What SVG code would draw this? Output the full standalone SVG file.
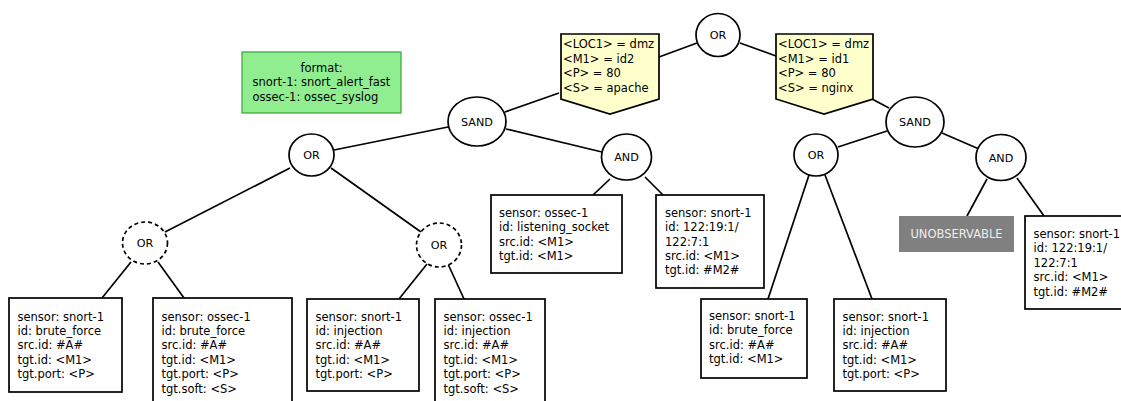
<svg xmlns="http://www.w3.org/2000/svg" width="1121" height="401" viewBox="0 0 1121 401">
<style>
text{font-family:"DejaVu Sans","Liberation Sans",sans-serif;font-size:11.5px;fill:#000}
.n{fill:#fff;stroke:#000;stroke-width:1.7}
.d{fill:#fff;stroke:#000;stroke-width:1.7;stroke-dasharray:4 3}
.b{fill:#fff;stroke:#000;stroke-width:1.7}
.p{fill:#ffffcc;stroke:#000;stroke-width:1.7}
.lbl{text-anchor:middle;font-size:11.2px}
#edges line{stroke:#000;stroke-width:1.7}
</style>
<rect width="1121" height="401" fill="#fff"/>
<g id="edges">
<line x1="697" y1="43" x2="659" y2="57"/>
<line x1="740" y1="43" x2="776" y2="56"/>
<line x1="559" y1="93" x2="505" y2="112"/>
<line x1="872" y1="99" x2="889" y2="108"/>
<line x1="448" y1="127" x2="334" y2="150"/>
<line x1="506" y1="129" x2="602" y2="152"/>
<line x1="887" y1="131" x2="838" y2="147"/>
<line x1="942" y1="133" x2="979" y2="149"/>
<line x1="290" y1="168" x2="165" y2="232"/>
<line x1="331" y1="168" x2="421" y2="232"/>
<line x1="131" y1="262" x2="102" y2="298"/>
<line x1="158" y1="262" x2="184" y2="298"/>
<line x1="427" y1="264" x2="399" y2="299"/>
<line x1="448" y1="264" x2="464" y2="299"/>
<line x1="610" y1="179" x2="593" y2="195"/>
<line x1="645" y1="177" x2="663" y2="195"/>
<line x1="809" y1="175" x2="768" y2="299"/>
<line x1="825" y1="175" x2="872" y2="299"/>
<line x1="987" y1="179" x2="967" y2="216"/>
<line x1="1017" y1="178" x2="1044" y2="216"/>
</g>
<g id="format">
<rect x="242" y="52" width="159" height="61" fill="#90ee90" stroke="#3faa3f" stroke-width="1.3"/>
<text x="321.5" y="71.7" text-anchor="middle">format:</text>
<text x="252.5" y="86.1">snort-1: snort_alert_fast</text>
<text x="252.5" y="100.5">ossec-1: ossec_syslog</text>
</g>
<g id="or_top"><ellipse class="n" cx="718" cy="35" rx="22" ry="21.5"/><text class="lbl" x="718" y="39">OR</text></g>
<g id="ctx_left">
<polygon class="p" points="561,34 659,34 659,99 610,114 561,99"/>
<text x="563" y="48.3">&lt;LOC1&gt; = dmz</text>
<text x="563" y="62.7">&lt;M1&gt; = id2</text>
<text x="563" y="77.1">&lt;P&gt; = 80</text>
<text x="563" y="91.5">&lt;S&gt; = apache</text>
</g>
<g id="ctx_right">
<polygon class="p" points="776,34 873,34 873,99 824,114 776,99"/>
<text x="778" y="48.3">&lt;LOC1&gt; = dmz</text>
<text x="778" y="62.7">&lt;M1&gt; = id1</text>
<text x="778" y="77.1">&lt;P&gt; = 80</text>
<text x="778" y="91.5">&lt;S&gt; = nginx</text>
</g>
<g id="sand_left"><ellipse class="n" cx="477" cy="121.5" rx="29" ry="24.5"/><text class="lbl" x="477" y="125.5">SAND</text></g>
<g id="or_left"><ellipse class="n" cx="311.5" cy="155" rx="22.5" ry="21"/><text class="lbl" x="311.5" y="159">OR</text></g>
<g id="and_left"><ellipse class="n" cx="626.5" cy="157" rx="25" ry="23"/><text class="lbl" x="626.5" y="161">AND</text></g>
<g id="sand_right"><ellipse class="n" cx="915" cy="122" rx="29" ry="25"/><text class="lbl" x="915" y="126">SAND</text></g>
<g id="or_right"><ellipse class="n" cx="816" cy="155" rx="22" ry="21"/><text class="lbl" x="816" y="159">OR</text></g>
<g id="and_right"><ellipse class="n" cx="1001" cy="157.5" rx="25" ry="23"/><text class="lbl" x="1001" y="161.5">AND</text></g>
<g id="or_dash1"><ellipse class="d" cx="145" cy="243" rx="22.5" ry="21"/><text class="lbl" x="145" y="247">OR</text></g>
<g id="or_dash2"><ellipse class="d" cx="439" cy="245" rx="22.5" ry="22"/><text class="lbl" x="439" y="249">OR</text></g>
<g id="box1">
<rect class="b" x="9" y="298" width="113" height="94"/>
<text x="17.5" y="320.5">sensor: snort-1</text>
<text x="17.5" y="334.9">id: brute_force</text>
<text x="17.5" y="349.3">src.id: #A#</text>
<text x="17.5" y="363.7">tgt.id: &lt;M1&gt;</text>
<text x="17.5" y="378.1">tgt.port: &lt;P&gt;</text>
</g>
<g id="box2">
<rect class="b" x="153" y="298" width="139" height="110"/>
<text x="161.5" y="320.5">sensor: ossec-1</text>
<text x="161.5" y="334.9">id: brute_force</text>
<text x="161.5" y="349.3">src.id: #A#</text>
<text x="161.5" y="363.7">tgt.id: &lt;M1&gt;</text>
<text x="161.5" y="378.1">tgt.port: &lt;P&gt;</text>
<text x="161.5" y="392.5">tgt.soft: &lt;S&gt;</text>
</g>
<g id="box3">
<rect class="b" x="307" y="299" width="112" height="92"/>
<text x="315.5" y="320.5">sensor: snort-1</text>
<text x="315.5" y="334.9">id: injection</text>
<text x="315.5" y="349.3">src.id: #A#</text>
<text x="315.5" y="363.7">tgt.id: &lt;M1&gt;</text>
<text x="315.5" y="378.1">tgt.port: &lt;P&gt;</text>
</g>
<g id="box4">
<rect class="b" x="435" y="299" width="110" height="110"/>
<text x="443.5" y="320.5">sensor: ossec-1</text>
<text x="443.5" y="334.9">id: injection</text>
<text x="443.5" y="349.3">src.id: #A#</text>
<text x="443.5" y="363.7">tgt.id: &lt;M1&gt;</text>
<text x="443.5" y="378.1">tgt.port: &lt;P&gt;</text>
<text x="443.5" y="392.5">tgt.soft: &lt;S&gt;</text>
</g>
<g id="box_listen">
<rect class="b" x="491" y="195" width="131" height="78"/>
<text x="499" y="216.7">sensor: ossec-1</text>
<text x="499" y="231.1">id: listening_socket</text>
<text x="499" y="245.5">src.id: &lt;M1&gt;</text>
<text x="499" y="259.9">tgt.id: &lt;M1&gt;</text>
</g>
<g id="box_snort_l">
<rect class="b" x="656" y="195" width="108" height="93"/>
<text x="665" y="216.7">sensor: snort-1</text>
<text x="665" y="231.1">id: 122:19:1/</text>
<text x="665" y="245.5">122:7:1</text>
<text x="665" y="259.9">src.id: &lt;M1&gt;</text>
<text x="665" y="274.3">tgt.id: #M2#</text>
</g>
<g id="box_brute_r">
<rect class="b" x="701" y="299" width="106" height="79"/>
<text x="709" y="320">sensor: snort-1</text>
<text x="709" y="334.4">id: brute_force</text>
<text x="709" y="348.8">src.id: #A#</text>
<text x="709" y="363.2">tgt.id: &lt;M1&gt;</text>
</g>
<g id="box_inj_r">
<rect class="b" x="834" y="299" width="112" height="92"/>
<text x="842.5" y="320.5">sensor: snort-1</text>
<text x="842.5" y="334.9">id: injection</text>
<text x="842.5" y="349.3">src.id: #A#</text>
<text x="842.5" y="363.7">tgt.id: &lt;M1&gt;</text>
<text x="842.5" y="378.1">tgt.port: &lt;P&gt;</text>
</g>
<g id="unobservable">
<rect x="899" y="216" width="115" height="36" fill="#808080"/>
<text x="956.5" y="238" text-anchor="middle" fill="#eeeeee" style="fill:#eeeeee">UNOBSERVABLE</text>
</g>
<g id="box_snort_r">
<rect class="b" x="1025" y="216" width="108" height="93"/>
<text x="1033.5" y="238">sensor: snort-1</text>
<text x="1033.5" y="252.4">id: 122:19:1/</text>
<text x="1033.5" y="266.8">122:7:1</text>
<text x="1033.5" y="281.2">src.id: &lt;M1&gt;</text>
<text x="1033.5" y="295.6">tgt.id: #M2#</text>
</g>
</svg>
